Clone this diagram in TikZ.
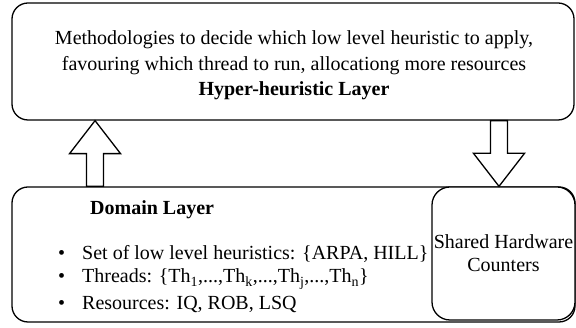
\documentclass[tikz,border=0pt]{standalone}
\usepackage{fontspec}
\setmainfont{Liberation Serif}
\usetikzlibrary{calc, positioning}

% block arrow between two named points
\newcommand{\blockarrow}[2]{%
  \coordinate (headbase) at ($(#2)!33pt!(#1)$);
  \draw[blockline] ($(#1)!8.5pt!90:(#2)$) -- ($(headbase)!8.5pt!90:(#2)$)
    -- ($(headbase)!25.5pt!90:(#2)$) -- (#2)
    -- ($(headbase)!25.5pt!-90:(#2)$) -- ($(headbase)!8.5pt!-90:(#2)$)
    -- ($(#1)!8.5pt!-90:(#2)$) -- cycle;
}

\begin{document}
\begin{tikzpicture}[
  x=1pt, y=1pt,
  every node/.style={font=\fontsize{20}{23}\selectfont},
  layer/.style={draw, line width=1.3pt, rounded corners=16pt, inner sep=0pt},
  blockline/.style={line width=1.3pt, fill=white, line join=miter}
]
\useasboundingbox (0,0) rectangle (576,328);

\node[layer, minimum width=562pt, minimum height=117pt] (hyper) at (293,266.5) {};
\node[anchor=base, align=center, inner sep=0pt, font=\fontsize{20}{25.5}\selectfont] (hypertext) at (294,232)
  {Methodologies to decide which low level heuristic to apply,\\
   favouring which thread to run, allocationg more resources\\
   \textbf{Hyper-heuristic Layer}};

\node[layer, minimum width=563pt, minimum height=135pt] (domain) at (293.5,73.5) {};
\node[anchor=base west, inner sep=0pt] (domaintitle) at (90,113) {\textbf{Domain Layer}};
\node[anchor=base west, inner sep=0pt, align=left] (domainlist) at (58,18)
  {\textbullet\hspace{17pt}Set of low level heuristics: \{ARPA, HILL\}\\
   \textbullet\hspace{17pt}Threads: \{Th\textsubscript{1},...,Th\textsubscript{k},...,Th\textsubscript{j},...,Th\textsubscript{n}\}\\[4pt]
   \textbullet\hspace{17pt}Resources: IQ, ROB, LSQ};

\node[layer, fill=white, rounded corners=18pt, minimum width=143pt, minimum height=133pt, align=center]
  (counters) at (503.5,74.5) {Shared Hardware\\Counters};

\coordinate (upfoot) at ([xshift=83.7pt]domain.north west);
\coordinate (uptip) at (upfoot |- hyper.south);
\coordinate (downfoot) at ([xshift=-4.5pt]counters.north |- hyper.south);
\coordinate (downtip) at (downfoot |- counters.north);

\blockarrow{upfoot}{uptip}
\blockarrow{downfoot}{downtip}

\end{tikzpicture}
\end{document}
